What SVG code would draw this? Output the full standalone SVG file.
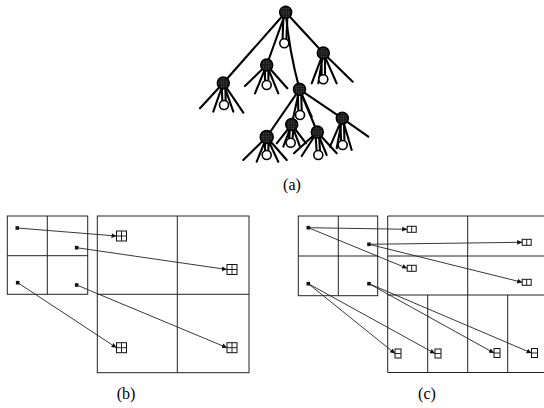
<svg xmlns="http://www.w3.org/2000/svg" width="544" height="408" viewBox="0 0 544 408">
<style>
.t{stroke:#000;stroke-width:2.1;stroke-linecap:round;fill:none}
.n{fill:url(#dots);stroke:#000;stroke-width:1.5}
.h{fill:#fff;stroke:#000;stroke-width:1.6}
.g{fill:none;stroke:#222;stroke-width:1}
.s{fill:#111}
.e{fill:none;stroke:#222;stroke-width:0.9;marker-end:url(#ah)}
.i{fill:#fff;stroke:#111;stroke-width:1}
.lb{font-family:"Liberation Serif",serif;font-size:16px;fill:#000;text-anchor:middle}
</style>
<defs>
<pattern id="dots" width="2.5" height="2.5" patternUnits="userSpaceOnUse">
<rect width="2.5" height="2.5" fill="#1a1a1a"/>
<circle cx="1.2" cy="1.2" r="0.5" fill="#6a6a6a"/>
</pattern>
<marker id="ah" markerWidth="6" markerHeight="6" refX="5" refY="3" orient="auto" markerUnits="userSpaceOnUse">
<path d="M0,0.6 L5,3 L0,5.4 Z" fill="#111"/>
</marker>
</defs>

<g id="tree-edges">
<path class="t" d="M285.7,12.3 L223.3,83 M285.7,12.3 L266.7,65 M285.7,12.3 L323.3,53 M285.7,12.3 Q289,50 299.5,89.3"/>
<path class="t" d="M283.4,16 L282.6,39 M287.4,16 L286.4,39"/>
<path class="t" d="M299.5,89.3 L266.7,137 M299.5,89.3 L291.7,124.5 M299.5,89.3 L317.3,132 M299.5,89.3 L342.3,118.3"/>
</g>

<g id="node-a">
<path class="t" d="M223.3,83 L200,108.3 M223.3,83 L213.3,111.7 M223.3,83 L233.3,111.7 M223.3,83 L243.3,112.7 M221.8,87 L222.3,100.5 M225.3,87 L225.7,100.5"/>
<circle class="n" cx="223.3" cy="83" r="6"/>
<circle class="h" cx="224" cy="105" r="4.5"/>
</g>
<g id="node-b">
<path class="t" d="M266.7,65 L245,86 M266.7,65 L255,93.3 M266.7,65 L278.3,93.3 M266.7,65 L287.3,88.3 M265,69 L265,80.5 M268.4,69 L268.4,80.5"/>
<circle class="n" cx="266.7" cy="65" r="6"/>
<circle class="h" cx="266.7" cy="85" r="4.5"/>
</g>
<g id="node-c">
<path class="t" d="M323.3,53 L311.7,83.3 M323.3,53 L318.3,83.3 M323.3,53 L336.7,83.3 M323.3,53 L352.7,81.7 M321.6,57 L321.6,75 M325,57 L325,75"/>
<circle class="n" cx="323.3" cy="53" r="6"/>
<circle class="h" cx="323.3" cy="79.3" r="4.5"/>
</g>
<g id="node-d">
<path class="t" d="M297.8,93 L298.3,110.5 M301.2,93 L301.7,110.5 M299.5,89.3 L311.7,116.7"/>
<circle class="n" cx="299.5" cy="89.3" r="6"/>
<circle class="h" cx="300" cy="115" r="4.5"/>
</g>
<g id="node-e">
<path class="t" d="M342.3,118.3 L330,146.7 M342.3,118.3 L336.7,148.3 M342.3,118.3 L351.7,150 M342.3,118.3 L368.3,136.7 M340.6,122 L341,140.5 M344,122 L344.4,140.5"/>
<circle class="n" cx="342.3" cy="118.3" r="6"/>
<circle class="h" cx="342.7" cy="145" r="4.5"/>
</g>
<g id="node-f">
<path class="t" d="M291.7,124.5 L276.7,143.3 M291.7,124.5 L283.3,146.7 M291.7,124.5 L300,146.7 M291.7,124.5 L306,143.3 M290,128 L289.2,138.2 M293.4,128 L292.6,138.2"/>
<circle class="n" cx="291.7" cy="124.5" r="6"/>
<circle class="h" cx="290.7" cy="142.7" r="4.5"/>
</g>
<g id="node-g">
<path class="t" d="M317.3,132 L294,153.3 M317.3,132 L301.7,156 M317.3,132 L326.7,155 M317.3,132 L336.7,153.3 M315.6,136 L316.6,150.5 M319,136 L320,150.5"/>
<circle class="n" cx="317.3" cy="132" r="6"/>
<circle class="h" cx="318.3" cy="155" r="4.5"/>
</g>
<g id="node-h">
<path class="t" d="M266.7,137 L243.3,160 M266.7,137 L256.7,161.7 M266.7,137 L278.3,161.7 M266.7,137 L286.7,160 M265,141 L265,150.5 M268.4,141 L268.4,150.5"/>
<circle class="n" cx="266.7" cy="137" r="6.5"/>
<circle class="h" cx="266.7" cy="155" r="4.5"/>
</g>
<g id="node-root">
<circle class="n" cx="285.7" cy="12.3" r="6"/>
<circle class="h" cx="284.3" cy="43.3" r="4.5"/>
</g>

<g id="grid-b-small">
<rect class="g" x="7.3" y="216" width="80.4" height="78.3"/>
<path class="g" d="M47.3,216 V294.3 M7.3,255.7 H87.7"/>
</g>
<g id="grid-b-large">
<rect class="g" x="97.3" y="216" width="151.7" height="156.7"/>
<path class="g" d="M177.3,216 V372.7 M97.3,294.3 H249"/>
</g>
<g id="grid-c-small">
<rect class="g" x="298.3" y="216" width="79.4" height="79.7"/>
<path class="g" d="M338.3,216 V295.7 M298.3,256 H377.7"/>
</g>
<g id="grid-c-large">
<path class="g" d="M387.7,216 H544 M387.7,256 H544 M387.7,295 H544 M387.7,372.5 H544 M387.7,216 V372.5 M467.7,216 V372.5 M427.7,295 V372.5 M507.7,295 V372.5"/>
</g>

<g id="sources">
<rect class="s" x="15.5" y="226.2" width="3.6" height="3.6"/>
<rect class="s" x="74.9" y="245.9" width="3.6" height="3.6"/>
<rect class="s" x="15.9" y="280.9" width="3.6" height="3.6"/>
<rect class="s" x="74.9" y="283.2" width="3.6" height="3.6"/>
<rect class="s" x="306.5" y="225.9" width="3.6" height="3.6"/>
<rect class="s" x="367.2" y="242.5" width="3.6" height="3.6"/>
<rect class="s" x="306.5" y="281.9" width="3.6" height="3.6"/>
<rect class="s" x="367.2" y="281.9" width="3.6" height="3.6"/>
</g>

<g id="connectors">
<path class="e" d="M17.3,228 L116.5,236"/>
<path class="e" d="M76.7,247.7 L227,269.5"/>
<path class="e" d="M17.7,282.7 L116.5,347.7"/>
<path class="e" d="M76.7,285 L227,347.7"/>
<path class="e" d="M308.3,227.7 L407.2,229.3"/>
<path class="e" d="M308.3,227.7 L407.2,268.3"/>
<path class="e" d="M369,244.3 L522.2,242.3"/>
<path class="e" d="M369,244.3 L522.2,282.3"/>
<path class="e" d="M308.3,283.7 L395,353.5"/>
<path class="e" d="M308.3,283.7 L435,353.5"/>
<path class="e" d="M369,283.7 L494,353"/>
<path class="e" d="M369,283.7 L531.5,353"/>
</g>

<g id="targets-b">
<rect class="i" x="116.5" y="231" width="10" height="10"/><path class="g" d="M121.5,231 V241 M116.5,236 H126.5"/>
<rect class="i" x="227" y="264.5" width="10" height="10"/><path class="g" d="M232,264.5 V274.5 M227,269.5 H237"/>
<rect class="i" x="116.5" y="342.7" width="10" height="10"/><path class="g" d="M121.5,342.7 V352.7 M116.5,347.7 H126.5"/>
<rect class="i" x="227" y="342.7" width="10" height="10"/><path class="g" d="M232,342.7 V352.7 M227,347.7 H237"/>
</g>
<g id="targets-c">
<rect class="i" x="407.2" y="226.3" width="9" height="6"/><path class="g" d="M411.7,226.3 V232.3"/>
<rect class="i" x="522.2" y="239.3" width="9" height="6"/><path class="g" d="M526.7,239.3 V245.3"/>
<rect class="i" x="407.2" y="265.3" width="9" height="6"/><path class="g" d="M411.7,265.3 V271.3"/>
<rect class="i" x="522.2" y="279.3" width="9" height="6"/><path class="g" d="M526.7,279.3 V285.3"/>
<rect class="i" x="395" y="349" width="6" height="9"/><path class="g" d="M395,353.5 H401"/>
<rect class="i" x="435" y="349" width="6" height="9"/><path class="g" d="M435,353.5 H441"/>
<rect class="i" x="494" y="348.5" width="6" height="9"/><path class="g" d="M494,353 H500"/>
<rect class="i" x="531.5" y="348.5" width="6" height="9"/><path class="g" d="M531.5,353 H537.5"/>
</g>

<g id="labels">
<text class="lb" x="292" y="190">(a)</text>
<text class="lb" x="126" y="399">(b)</text>
<text class="lb" x="427" y="399">(c)</text>
</g>
</svg>
